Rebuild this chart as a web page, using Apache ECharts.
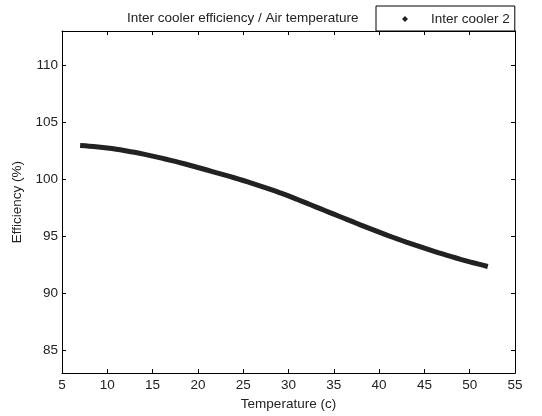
<!DOCTYPE html>
<html>
<head>
<meta charset="utf-8">
<script src="https://cdn.jsdelivr.net/npm/echarts@6/dist/echarts.min.js"></script>
<style>html,body{margin:0;padding:0;background:#fff}#c{width:542px;height:416px}</style>
</head>
<body>
<div id="c"></div>
<script>
var seriesName = 'Inter cooler 2';
var temperature = [7,8,9,10,11,12,13,14,15,16,17,18,19,20,21,22,23,24,25,26,27,28,29,30,31,32,33,34,35,36,37,38,39,40,41,42,43,44,45,46,47,48,49,50,51,52];
var efficiency = [102.95,102.90,102.83,102.74,102.63,102.50,102.36,102.20,102.03,101.85,101.66,101.46,101.25,101.03,100.81,100.58,100.36,100.13,99.89,99.64,99.38,99.11,98.83,98.54,98.22,97.90,97.58,97.26,96.94,96.62,96.30,95.98,95.67,95.36,95.06,94.77,94.49,94.22,93.96,93.70,93.45,93.21,92.98,92.76,92.55,92.35];
var xTicks = [5,10,15,20,25,30,35,40,45,50,55];
var yTicks = [85,90,95,100,105,110];

var points = temperature.map(function (t, i) { return [t, efficiency[i]]; });
var font = 'Liberation Sans, Arial, sans-serif';
var fs = 13.5;
var txt = '#222';
var chart = echarts.init(document.getElementById('c'), null, {renderer: 'canvas'});
var lineCfg = {show: true, lineStyle: {color: '#000', width: 1}};
var tickCfg = {show: true, inside: true, length: 4, lineStyle: {color: '#000', width: 1}};
chart.setOption({
  animation: false,
  backgroundColor: '#fff',
  title: {
    text: 'Inter cooler efficiency / Air temperature',
    left: 127, top: 11, padding: 0,
    textStyle: {fontFamily: font, fontSize: fs, fontWeight: 'normal', color: txt}
  },
  legend: {
    data: [seriesName],
    left: 376, top: 6,
    padding: [6, 5, 5, 26],
    itemWidth: 6, itemHeight: 6,
    icon: 'diamond',
    borderColor: '#000', borderWidth: 1,
    backgroundColor: '#fff',
    textStyle: {fontFamily: font, fontSize: fs, color: txt, padding: [0, 0, 0, 18]}
  },
  grid: {left: 62, right: 27, top: 31, bottom: 37, containLabel: false},
  xAxis: [{
    type: 'value', min: 5, max: 55, interval: 5,
    name: 'Temperature (c)', nameLocation: 'middle', nameGap: 23,
    nameTextStyle: {fontFamily: font, fontSize: fs, color: txt},
    axisLine: lineCfg, axisTick: tickCfg, splitLine: {show: false},
    axisLabel: {fontFamily: font, fontSize: fs, color: txt, margin: 5, customValues: xTicks}
  }, {
    type: 'value', min: 5, max: 55, interval: 5, position: 'top',
    axisLine: lineCfg, axisTick: tickCfg, splitLine: {show: false},
    axisLabel: {show: false}
  }],
  yAxis: [{
    type: 'value', min: 83, max: 113,
    name: 'Efficiency (%)', nameLocation: 'middle', nameGap: 37,
    nameTextStyle: {fontFamily: font, fontSize: fs, color: txt},
    axisLine: lineCfg,
    axisTick: {show: true, inside: true, length: 4, lineStyle: {color: '#000', width: 1}, customValues: yTicks},
    splitLine: {show: false},
    axisLabel: {fontFamily: font, fontSize: fs, color: txt, margin: 4, customValues: yTicks}
  }, {
    type: 'value', min: 83, max: 113, position: 'right',
    axisLine: lineCfg,
    axisTick: {show: true, inside: true, length: 4, lineStyle: {color: '#000', width: 1}, customValues: yTicks},
    splitLine: {show: false},
    axisLabel: {show: false}
  }],
  series: [{
    name: seriesName,
    type: 'line',
    data: points,
    smooth: 0.3,
    symbol: 'none',
    lineStyle: {color: '#222', width: 5},
    itemStyle: {color: '#222'}
  }]
});
</script>
</body>
</html>
